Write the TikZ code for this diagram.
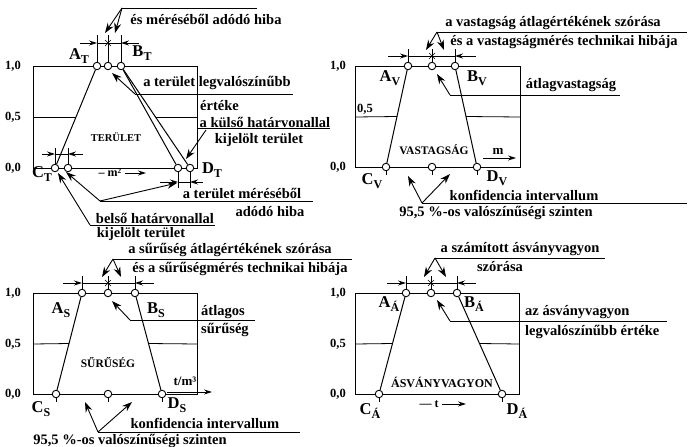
\documentclass[tikz,border=0pt]{standalone}
\usepackage{fontspec}
\setmainfont{Liberation Serif}
\usetikzlibrary{arrows.meta,calc}
\newcommand\biglab[2]{#1\raisebox{-0.45ex}{\fontsize{12}{12}\selectfont #2}}
\tikzset{
  boxln/.style={line width=0.8pt},
  trap/.style={line width=1pt},
  ptc/.style={circle,draw,fill=white,inner sep=0pt,minimum size=7.5pt,line width=0.9pt},
  ldr/.style={line width=0.9pt},
  ldrarr/.style={line width=0.9pt,-{Stealth[length=10pt,width=7pt]}},
  dimarr/.style={line width=0.8pt,-{Stealth[length=8pt,width=5pt]}},
  tick/.style={line width=0.8pt},
  txt/.style={inner sep=0pt,font=\fontsize{14.5}{17}\selectfont\bfseries},
  axl/.style={inner sep=0pt,font=\fontsize{12.5}{14}\selectfont\bfseries},
  big/.style={inner sep=0pt,font=\fontsize{16.5}{18}\selectfont\bfseries},
  inlbl/.style={inner sep=0pt,font=\fontsize{10.5}{12}\selectfont\bfseries},
}
\newcommand\starmark[1]{\draw[line width=0.6pt] ($(#1)+(-3,-3)$)--($(#1)+(3,3)$) ($(#1)+(-3,3)$)--($(#1)+(3,-3)$);}
\begin{document}
\begin{tikzpicture}[x=1pt,y=-1pt]
\useasboundingbox (0,0) rectangle (688,447);

% ================= T panel (top left)
\draw[boxln] (33,66) rectangle (197,168);
\node[axl] (T10) at (13,66) {1,0};
\node[axl] (T05) at (13,117) {0,5};
\node[axl] (T00) at (13,168) {0,0};
\coordinate (T5L) at (33,117); \coordinate (T5R) at (197,117);
\node[ptc] (AT) at (97,66) {};
\node[ptc] (MT) at (108,66) {};
\node[ptc] (BT) at (121,66) {};
\node[ptc] (CT) at (55,168) {};
\node[ptc] (CTi) at (68,168) {};
\node[ptc] (DTi) at (178,168) {};
\node[ptc] (DT) at (190,168) {};
\draw[trap] (CT)--(AT);
\draw[trap] (BT)--(DTi);
\draw[trap] (BT)--(DT);
\draw[boxln] (T5L)--($(CT)!.5!(AT)$);
\draw[boxln] ($(BT)!.5!(DT)$)--(T5R);
% top dimension
\coordinate (TdA) at (97,35); \coordinate (TdM) at (108,35); \coordinate (TdB) at (121,35);
\draw[tick] (TdA)--(AT); \draw[tick] (TdM)--(MT); \draw[tick] (TdB)--(BT);
\coordinate (TdL) at (80,43); \coordinate (TdR) at (139,43);
\coordinate (TdA2) at (97,43); \coordinate (TdB2) at (121,43); \coordinate (TdS) at (108,43);
\draw[dimarr] (TdL)--(TdA2); \draw[tick] (TdA2)--(TdB2); \draw[dimarr] (TdR)--(TdB2);
\starmark{TdS}
% bottom-left dimension
\coordinate (TcA) at (55,148); \coordinate (TcB) at (68,148);
\draw[tick] (TcA)--(CT); \draw[tick] (TcB)--(CTi);
\coordinate (TcL) at (42,154); \coordinate (TcR) at (83,154);
\coordinate (TcA2) at (55,154); \coordinate (TcB2) at (68,154);
\draw[dimarr] (TcL)--(TcA2); \draw[tick] (TcA2)--(TcB2); \draw[dimarr] (TcR)--(TcB2);
% bottom-right dimension
\coordinate (TeA) at (178,188); \coordinate (TeB) at (190,188);
\draw[tick] (DTi)--(TeA); \draw[tick] (DT)--(TeB);
\coordinate (TeL) at (160,182); \coordinate (TeR) at (203,182);
\coordinate (TeA2) at (178,182); \coordinate (TeB2) at (190,182);
\draw[dimarr] (TeL)--(TeA2); \draw[tick] (TeA2)--(TeB2); \draw[dimarr] (TeR)--(TeB2);
% labels
\node[big] (lAT) at (79,56) {\biglab{A}{T}};
\node[big] (lBT) at (142,53) {\biglab{B}{T}};
\node[big] (lCT) at (42,174) {\biglab{C}{T}};
\node[big] (lDT) at (212,170) {\biglab{D}{T}};
\node[inlbl] (TTer) at (116,137) {TERÜLET};
\node[txt,font=\fontsize{12}{14}\selectfont\bfseries] (Tm) at (110,173) {– m²};
\coordinate (TmA) at (125,173); \coordinate (TmB) at (146,173);
\draw[dimarr] (TmA)--(TmB);
% leaders
\coordinate (Tv1) at (122,8); \coordinate (Tv1e) at (257,8);
\coordinate (Tv1a) at (105,33); \coordinate (Tv1b) at (115,33);
\draw[ldr] (Tv1)--(Tv1e);
\draw[ldrarr] (Tv1)--(Tv1a); \draw[ldrarr] (Tv1)--(Tv1b);
\node[txt] (Tt1) at (206,19) {és méréséből adódó hiba};
\coordinate (Tv2) at (135,94); \coordinate (Tv2e) at (293,94); \coordinate (Tv2a) at (112,73);
\draw[ldr] (Tv2)--(Tv2e); \draw[ldrarr] (Tv2)--(Tv2a);
\node[txt] (Tt2) at (217,83) {a terület legvalószínűbb};
\node[txt,anchor=west] (Tt3) at (200,106) {értéke};
\coordinate (Tv3) at (198,128); \coordinate (Tv3e) at (330,128);
\coordinate (Tv3s) at (206,130); \coordinate (Tv3a) at (186,159);
\draw[ldr] (Tv3)--(Tv3e); \draw[ldrarr] (Tv3s)--(Tv3a);
\node[txt] (Tt4) at (265,122) {a külső határvonallal};
\node[txt] (Tt5) at (259,140) {kijelölt terület};
\coordinate (Tv4) at (100,201); \coordinate (Tv4e) at (313,201);
\coordinate (Tv4a) at (66,172); \coordinate (Tv4b) at (177,183);
\draw[ldr] (Tv4)--(Tv4e); \draw[ldrarr] (Tv4)--(Tv4a); \draw[ldrarr] (Tv4)--(Tv4b);
\node[txt] (Tt6) at (242,193) {a terület méréséből};
\node[txt] (Tt7) at (270,212) {adódó hiba};
\coordinate (Tv5) at (90,225); \coordinate (Tv5e) at (215,225); \coordinate (Tv5a) at (58,173);
\draw[ldr] (Tv5)--(Tv5e); \draw[ldrarr] (Tv5)--(Tv5a);
\node[txt] (Tt8) at (155,218) {belső határvonallal};
\node[txt] (Tt9) at (141,234) {kijelölt terület};

% ================= V panel (top right)
\draw[boxln] (355,66) rectangle (520,167);
\node[axl] (V10) at (338,66) {1,0};
\node[axl] (V05) at (365,109) {0,5};
\node[axl] (V00) at (338,167) {0,0};
\coordinate (V5L) at (355,117); \coordinate (V5R) at (520,117);
\node[ptc] (AV) at (408,66) {};
\node[ptc] (MV) at (432,66) {};
\node[ptc] (BV) at (455,66) {};
\node[ptc] (CV) at (386,167) {};
\node[ptc] (MVb) at (432,167) {};
\node[ptc] (DV) at (477,167) {};
\draw[trap] (CV)--(AV); \draw[trap] (BV)--(DV);
\draw[boxln] (V5L)--($(CV)!.5!(AV)$);
\draw[boxln] ($(BV)!.5!(DV)$)--(V5R);
\coordinate (VdA) at (408,49); \coordinate (VdM) at (432,49); \coordinate (VdB) at (455,49);
\draw[tick] (VdA)--(AV); \draw[tick] (VdM)--(MV); \draw[tick] (VdB)--(BV);
\coordinate (VbC) at (386,175); \coordinate (VbM) at (432,175); \coordinate (VbD) at (477,175);
\draw[tick] (CV)--(VbC); \draw[tick] (MVb)--(VbM); \draw[tick] (DV)--(VbD);
\coordinate (VdL) at (388,56); \coordinate (VdR) at (476,56);
\coordinate (VdA2) at (408,56); \coordinate (VdB2) at (455,56); \coordinate (VdS) at (432,56);
\draw[dimarr] (VdL)--(VdA2); \draw[tick] (VdA2)--(VdB2); \draw[dimarr] (VdR)--(VdB2);
\starmark{VdS}
\node[big] (lAV) at (390,78) {\biglab{A}{V}};
\node[big] (lBV) at (477,78) {\biglab{B}{V}};
\node[big] (lCV) at (372,181) {\biglab{C}{V}};
\node[big] (lDV) at (497,178) {\biglab{D}{V}};
\node[inlbl,font=\fontsize{11.5}{13}\selectfont\bfseries] (VVas) at (434,150) {VASTAGSÁG};
\node[txt,font=\fontsize{13}{14}\selectfont\bfseries] (Vm) at (498,151) {m};
\coordinate (VmA) at (483,158); \coordinate (VmB) at (516,158);
\draw[dimarr] (VmA)--(VmB);
\coordinate (Vv1) at (437,32); \coordinate (Vv1e) at (687,32);
\coordinate (Vv1a) at (426,50); \coordinate (Vv1b) at (444,50);
\draw[ldr] (Vv1)--(Vv1e); \draw[ldrarr] (Vv1)--(Vv1a); \draw[ldrarr] (Vv1)--(Vv1b);
\node[txt] (Vt1) at (553,23) {a vastagság átlagértékének szórása};
\node[txt] (Vt2) at (564,42) {és a vastagságmérés technikai hibája};
\coordinate (Vv2) at (450,95); \coordinate (Vv2e) at (620,95); \coordinate (Vv2a) at (437,74);
\draw[ldr] (Vv2)--(Vv2e); \draw[ldrarr] (Vv2)--(Vv2a);
\node[txt] (Vt3) at (571,85) {átlagvastagság};
\coordinate (Vv3) at (422,203); \coordinate (Vv3e) at (687,203);
\coordinate (Vv3a) at (408,176); \coordinate (Vv3b) at (450,174);
\draw[ldr] (Vv3)--(Vv3e); \draw[ldrarr] (Vv3)--(Vv3a); \draw[ldrarr] (Vv3)--(Vv3b);
\node[txt] (Vt4) at (524,195) {konfidencia intervallum};
\node[txt] (Vt5) at (496,213) {95,5 \%-os valószínűségi szinten};

% ================= S panel (bottom left)
\draw[boxln] (33,293) rectangle (197,394);
\node[axl] (S10) at (13,293) {1,0};
\node[axl] (S05) at (13,344) {0,5};
\node[axl] (S00) at (13,394) {0,0};
\coordinate (S5L) at (33,344); \coordinate (S5R) at (197,344);
\node[ptc] (AS) at (82,293) {};
\node[ptc] (MS) at (108,293) {};
\node[ptc] (BS) at (135,293) {};
\node[ptc] (CS) at (56,394) {};
\node[ptc] (MSb) at (108,394) {};
\node[ptc] (DS) at (162,394) {};
\draw[trap] (CS)--(AS); \draw[trap] (BS)--(DS);
\draw[boxln] (S5L)--($(CS)!.5!(AS)$);
\draw[boxln] ($(BS)!.5!(DS)$)--(S5R);
\coordinate (SdA) at (82,276); \coordinate (SdM) at (108,276); \coordinate (SdB) at (135,276);
\draw[tick] (SdA)--(AS); \draw[tick] (SdM)--(MS); \draw[tick] (SdB)--(BS);
\coordinate (SbC) at (56,402); \coordinate (SbM) at (108,402); \coordinate (SbD) at (162,402);
\draw[tick] (CS)--(SbC); \draw[tick] (MSb)--(SbM); \draw[tick] (DS)--(SbD);
\coordinate (SdL) at (63,283); \coordinate (SdR) at (154,283);
\coordinate (SdA2) at (82,283); \coordinate (SdB2) at (135,283); \coordinate (SdS) at (108,283);
\draw[dimarr] (SdL)--(SdA2); \draw[tick] (SdA2)--(SdB2); \draw[dimarr] (SdR)--(SdB2);
\starmark{SdS}
\node[big] (lAS) at (61,310) {\biglab{A}{S}};
\node[big] (lBS) at (156,310) {\biglab{B}{S}};
\node[big] (lCS) at (41,409) {\biglab{C}{S}};
\node[big] (lDS) at (177,405) {\biglab{D}{S}};
\node[inlbl,font=\fontsize{11.5}{13}\selectfont\bfseries] (SSur) at (108,363) {SŰRŰSÉG};
\node[txt,font=\fontsize{13}{14}\selectfont\bfseries] (Stm) at (185,381) {t/m³};
\coordinate (StA) at (167,392); \coordinate (StB) at (212,392);
\draw[dimarr] (StA)--(StB);
\coordinate (Sv1) at (113,259); \coordinate (Sv1e) at (352,259);
\coordinate (Sv1a) at (102,277); \coordinate (Sv1b) at (121,277);
\draw[ldr] (Sv1)--(Sv1e); \draw[ldrarr] (Sv1)--(Sv1a); \draw[ldrarr] (Sv1)--(Sv1b);
\node[txt] (St1) at (230,250) {a sűrűség átlagértékének szórása};
\node[txt] (St2) at (240,269) {és a sűrűségmérés technikai hibája};
\coordinate (Sv2) at (130,320); \coordinate (Sv2e) at (255,320); \coordinate (Sv2a) at (112,301);
\draw[ldr] (Sv2)--(Sv2e); \draw[ldrarr] (Sv2)--(Sv2a);
\node[txt,anchor=west] (St3) at (201,312) {átlagos};
\node[txt,anchor=west] (St4) at (201,330) {sűrűség};
\coordinate (Sv3) at (98,432); \coordinate (Sv3e) at (300,432);
\coordinate (Sv3a) at (85,402); \coordinate (Sv3b) at (132,402);
\draw[ldr] (Sv3)--(Sv3e); \draw[ldrarr] (Sv3)--(Sv3a); \draw[ldrarr] (Sv3)--(Sv3b);
\node[txt] (St5) at (205,423) {konfidencia intervallum};
\node[txt] (St6) at (130,441) {95,5 \%-os valószínűségi szinten};

% ================= A panel (bottom right)
\draw[boxln] (355,293) rectangle (519,394);
\node[axl] (A10) at (338,293) {1,0};
\node[axl] (A05) at (338,344) {0,5};
\node[axl] (A00) at (338,394) {0,0};
\coordinate (A5L) at (355,344); \coordinate (A5R) at (519,344);
\node[ptc] (AA) at (406,293) {};
\node[ptc] (MA) at (431,293) {};
\node[ptc] (BA) at (457,293) {};
\node[ptc] (CA) at (379,394) {};
\node[ptc] (DA) at (502,394) {};
\draw[trap] (CA)--(AA); \draw[trap] (BA)--(DA);
\draw[boxln] (A5L)--($(CA)!.5!(AA)$);
\draw[boxln] ($(BA)!.5!(DA)$)--(A5R);
\coordinate (AdA) at (406,276); \coordinate (AdM) at (431,276); \coordinate (AdB) at (457,276);
\draw[tick] (AdA)--(AA); \draw[tick] (AdM)--(MA); \draw[tick] (AdB)--(BA);
\coordinate (AbC) at (379,402); \coordinate (AbD) at (502,402);
\draw[tick] (CA)--(AbC); \draw[tick] (DA)--(AbD);
\coordinate (AdL) at (387,283); \coordinate (AdR) at (476,283);
\coordinate (AdA2) at (406,283); \coordinate (AdB2) at (457,283); \coordinate (AdS) at (431,283);
\draw[dimarr] (AdL)--(AdA2); \draw[tick] (AdA2)--(AdB2); \draw[dimarr] (AdR)--(AdB2);
\starmark{AdS}
\node[big] (lAA) at (389,304) {\biglab{A}{Á}};
\node[big] (lBA) at (474,304) {\biglab{B}{Á}};
\node[big] (lCA) at (370,411) {\biglab{C}{Á}};
\node[big] (lDA) at (517,411) {\biglab{D}{Á}};
\node[inlbl,font=\fontsize{12}{13}\selectfont\bfseries] (AAsv) at (442,382) {ÁSVÁNYVAGYON};
\node[txt,font=\fontsize{12}{14}\selectfont\bfseries] (At) at (429,404) {— t};
\coordinate (AtA) at (442,404); \coordinate (AtB) at (466,404);
\draw[dimarr] (AtA)--(AtB);
\coordinate (Av1) at (435,258); \coordinate (Av1e) at (605,258);
\coordinate (Av1a) at (424,277); \coordinate (Av1b) at (446,277);
\draw[ldr] (Av1)--(Av1e); \draw[ldrarr] (Av1)--(Av1a); \draw[ldrarr] (Av1)--(Av1b);
\node[txt] (At1) at (520,249) {a számított ásványvagyon};
\node[txt] (At2) at (500,267) {szórása};
\coordinate (Av2) at (450,321); \coordinate (Av2e) at (667,321); \coordinate (Av2a) at (437,300);
\draw[ldr] (Av2)--(Av2e); \draw[ldrarr] (Av2)--(Av2a);
\node[txt,anchor=west] (At3) at (525,312) {az ásványvagyon};
\node[txt,anchor=west] (At4) at (525,332) {legvalószínűbb értéke};
\end{tikzpicture}
\end{document}
